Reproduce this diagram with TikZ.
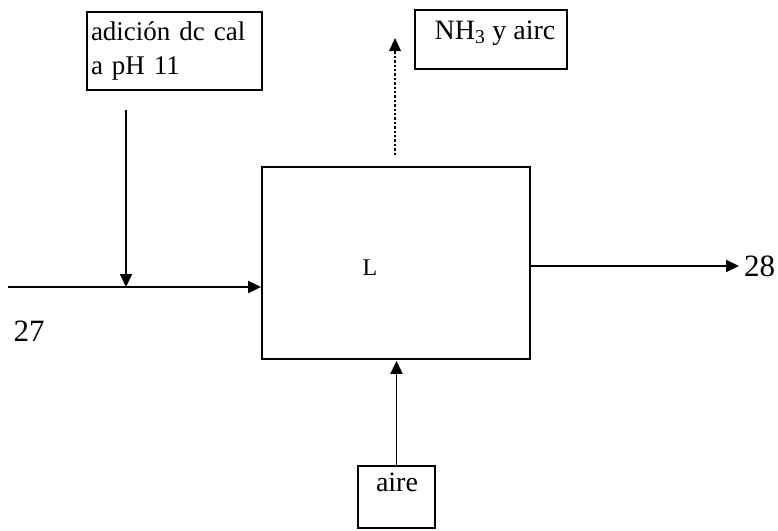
\documentclass[tikz,border=0pt]{standalone}
\usepackage{fontspec}
\setmainfont{Liberation Serif}
\usetikzlibrary{arrows.meta}
\begin{document}
\begin{tikzpicture}[x=1pt,y=-1pt,
  box/.style={draw,line width=1.8pt,rectangle,inner sep=0pt},
  flow/.style={line width=1.9pt,-{Triangle[length=13pt,width=12pt]}},
  dotflow/.style={line width=2.4pt,dotted,-{Triangle[length=13pt,width=12pt,line width=0pt]}},
  txt/.style={font=\fontsize{28}{33.6}\selectfont,inner sep=0pt}]
\useasboundingbox (0,0) rectangle (778,530);
% boxes
\node[box,minimum width=175pt,minimum height=78pt,text width=167pt,align=left,
  font=\fontsize{27}{34}\selectfont] (cal) at (174.5,51) {adición dc cal\\a pH 11};
\node[box,minimum width=152pt,minimum height=59pt] (nh3) at (491,39.5) {};
\node[txt] (nh3t) at (495,33) {NH\textsubscript{3} y airc};
\node[box,minimum width=268pt,minimum height=192pt] (reac) at (396,263) {};
\node[txt,font=\fontsize{24}{28}\selectfont] (Lt) at (370,268) {L};
\node[box,minimum width=77pt,minimum height=62pt] (aire) at (396.5,497) {};
\node[txt] (airet) at (397,482) {aire};
\node[txt,font=\fontsize{31}{36}\selectfont] (n27) at (29,331) {27};
\node[txt,font=\fontsize{31}{36}\selectfont,anchor=west] (n28) at (744,266) {28};
% coordinates
\coordinate (calS) at (126,110);
\coordinate (calE) at (126,287);
\coordinate (inS) at (8,287);
\coordinate (outE) at (739,266);
\coordinate (dotS) at (395,155);
\coordinate (dotE) at (395,38);
% connectors
\draw[flow] (calS) -- (calE);
\draw[flow] (inS) -- (inS -| reac.west);
\draw[flow] (reac.east |- outE) -- (outE);
\draw[dotflow] (dotS) -- (dotE);
\draw[flow,shorten >=1pt] (aire.north) -- (aire.north |- reac.south);
\end{tikzpicture}
\end{document}
